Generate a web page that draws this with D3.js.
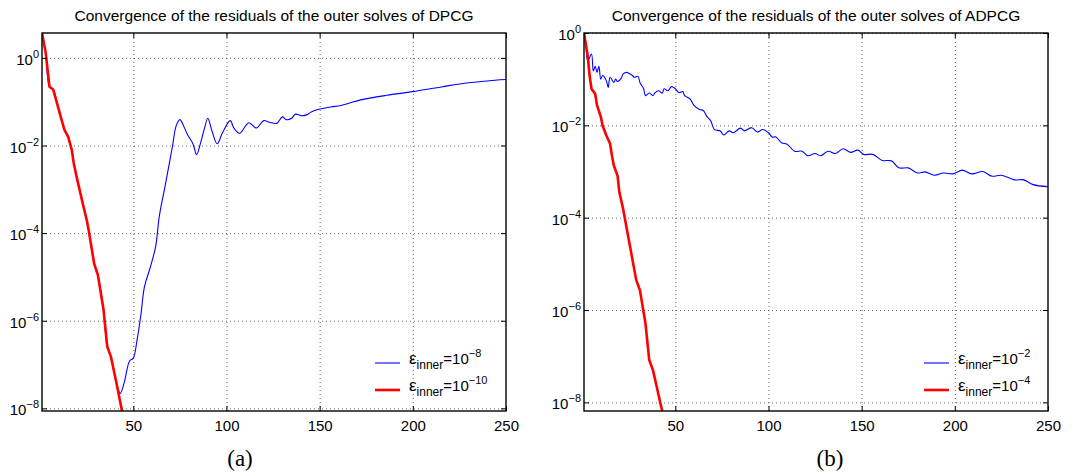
<!DOCTYPE html>
<html>
<head>
<meta charset="utf-8">
<script src="https://cdn.jsdelivr.net/npm/d3@7"></script>
<style>
  body { margin: 0; background: #fff; }
  text { font-family: "Liberation Sans", Arial, sans-serif; fill: #000; }
</style>
</head>
<body>
<div id="chart"></div>
<script>
// residuals (iteration, residual)
var dpcgBlueIter = [1,3,5,7,10,11,13,15,17,18,20,23,25,26,29,31,34,36,38,41,43,45,48,50,52,54,56,59,62,64,67,69,71,73,75,77,79,82,84,86,88,90,92,95,98,102,104,107,112,116,120,123,127,130,132,135,137,140,143,146,150,156,161,166,172,186,200,216,230,244,250];
var dpcgBlueRes = [3.7,1.3,0.22,0.19,0.066,0.046,0.023,0.016,7.9e-3,4.0e-3,1.6e-3,4.5e-4,2.0e-4,1.2e-4,2.0e-5,1.1e-5,1.8e-6,2.6e-7,1.5e-7,3.7e-8,2.2e-8,3.7e-8,1.2e-7,1.4e-7,3.6e-7,1.3e-6,6.0e-6,1.6e-5,5.0e-5,2.5e-4,1.15e-3,3.3e-3,9.5e-3,0.028,0.039,0.028,0.018,0.011,6.2e-3,0.011,0.023,0.042,0.023,0.011,0.020,0.037,0.025,0.019,0.033,0.025,0.037,0.034,0.032,0.045,0.039,0.042,0.052,0.048,0.050,0.060,0.068,0.076,0.081,0.093,0.11,0.14,0.17,0.22,0.27,0.31,0.32];

var dpcgRedIter = [1,3,5,7,10,11,13,15,17,18,20,23,25,26,29,31,34,36,38,41,44];
var dpcgRedRes = [3.7,1.3,0.22,0.19,0.066,0.046,0.023,0.016,7.9e-3,4.0e-3,1.6e-3,4.5e-4,2.0e-4,1.2e-4,2.0e-5,1.1e-5,1.8e-6,2.6e-7,1.5e-7,3.7e-8,8.5e-9];

var adpcgBlueIter = [1,2,3,5,6,7,8,9,10,11,13,14,15,17,18,19,21,22,24,25,27,28,30,31,33,34,36,38,39,41,43,44,46,48,50,52,54,55,58,60,63,65,67,69,71,74,76,79,81,85,87,91,94,97,100,102,104,107,110,114,118,121,125,128,132,136,140,144,148,151,156,161,166,170,175,180,184,189,194,199,204,209,215,220,225,232,237,242,250];
var adpcgBlueRes = [1.0,0.54,0.25,0.35,0.15,0.19,0.14,0.19,0.10,0.12,0.093,0.066,0.11,0.085,0.10,0.089,0.105,0.13,0.14,0.135,0.12,0.11,0.115,0.085,0.062,0.044,0.050,0.044,0.050,0.056,0.050,0.062,0.056,0.069,0.062,0.051,0.054,0.044,0.037,0.027,0.022,0.021,0.0155,0.0126,8.1e-3,7.6e-3,6.2e-3,7.6e-3,6.9e-3,8.7e-3,7.6e-3,8.9e-3,7.2e-3,8.1e-3,6.9e-3,5.6e-3,5.6e-3,4.2e-3,3.9e-3,2.75e-3,2.75e-3,2.2e-3,2.45e-3,2.2e-3,2.75e-3,2.45e-3,3.1e-3,2.6e-3,2.9e-3,2.35e-3,2.35e-3,1.74e-3,1.7e-3,1.2e-3,1.2e-3,9.3e-4,9.8e-4,8.3e-4,9.3e-4,8.9e-4,1.07e-3,8.9e-4,1.0e-3,7.9e-4,8.3e-4,6.6e-4,6.6e-4,5.2e-4,4.7e-4];

var adpcgRedIter = [1,3,4,5,7,8,10,11,13,15,16,17,19,20,22,24,29,31,34,36,38,40,42,43];
var adpcgRedRes = [1.0,0.32,0.12,0.062,0.048,0.027,0.0155,9.8e-3,6.0e-3,4.0e-3,2.2e-3,1.35e-3,8.1e-4,3.5e-4,1.55e-4,5.6e-5,4.5e-6,2.7e-6,5.1e-7,8.3e-8,5.0e-8,2.2e-8,9.5e-9,6.5e-9];

var xTicks = [50, 100, 150, 200, 250];
var xGrid = [50, 100, 150, 200];
var yTickExps = [0, -2, -4, -6, -8];
var dpcgLegendExps = ["\u22128", "\u221210"];
var adpcgLegendExps = ["\u22122", "\u22124"];

var svg = d3.select("#chart")
  .append("svg")
  .attr("width", 1080)
  .attr("height", 474);

var defs = svg.append("defs");

function drawPanel(p) {
  var width = p.right - p.left;
  var height = p.bottom - p.top;

  var g = svg.append("g")
    .attr("transform", `translate(${p.left}, ${p.top})`);

  var x = d3.scaleLinear().domain([1, 250]).range([0, width]);
  var y = d3.scaleLog().domain(p.yDomain).range([height, 0]);
  var yTicks = yTickExps.map(e => Math.pow(10, e));

  defs.append("clipPath").attr("id", p.id)
    .append("rect").attr("width", width).attr("height", height);

  // dotted grid
  var gridY = g.append("g")
    .call(d3.axisLeft(y).tickValues(yTicks).tickSize(-width).tickFormat(""));
  var gridX = g.append("g")
    .attr("transform", `translate(0, ${height})`)
    .call(d3.axisBottom(x).tickValues(xGrid).tickSize(-height).tickFormat(""));
  [gridX, gridY].forEach(function(gr) {
    gr.select(".domain").remove();
    gr.selectAll("line")
      .attr("stroke", "#666")
      .attr("stroke-width", 1)
      .attr("stroke-dasharray", "1,3");
  });

  // series
  var line = d3.line().x(d => x(d[0])).y(d => y(d[1]));
  var plot = g.append("g").attr("clip-path", `url(#${p.id})`);
  plot.append("path")
    .datum(d3.zip(p.blueIter, p.blueRes))
    .attr("fill", "none")
    .attr("stroke", "#0000ff")
    .attr("stroke-width", 1.1)
    .attr("d", line.curve(d3.curveCatmullRom.alpha(0.5)));
  plot.append("path")
    .datum(d3.zip(p.redIter, p.redRes))
    .attr("fill", "none")
    .attr("stroke", "#ff0000")
    .attr("stroke-width", 2.6)
    .attr("stroke-linejoin", "round")
    .attr("d", line.curve(d3.curveLinear));

  // inward ticks on all four sides
  var axes = [
    g.append("g").attr("transform", `translate(0, ${height})`)
      .call(d3.axisBottom(x).tickValues(xTicks).tickSize(-5).tickSizeOuter(0).tickPadding(9)),
    g.append("g")
      .call(d3.axisTop(x).tickValues(xTicks).tickSize(-5).tickSizeOuter(0).tickFormat("")),
    g.append("g")
      .call(d3.axisLeft(y).tickValues(yTicks).tickSize(-5).tickSizeOuter(0).tickFormat("")),
    g.append("g").attr("transform", `translate(${width}, 0)`)
      .call(d3.axisRight(y).tickValues(yTicks).tickSize(-5).tickSizeOuter(0).tickFormat(""))
  ];
  axes.forEach(function(a) {
    a.select(".domain").remove();
    a.selectAll("line").attr("stroke", "#000");
  });
  axes[0].selectAll("text")
    .style("font-size", "15px")
    .style("font-family", "Liberation Sans, Arial, sans-serif")
    .attr("dy", "0.72em");

  // y tick labels 10^n
  var yLab = g.append("g").selectAll("text")
    .data(yTickExps)
    .enter()
    .append("text")
    .attr("x", -3)
    .attr("y", d => y(Math.pow(10, d)) + 7)
    .attr("text-anchor", "end")
    .style("font-size", "15px");
  yLab.append("tspan").text("10");
  yLab.append("tspan")
    .attr("dy", -7)
    .style("font-size", "11px")
    .text(d => d === 0 ? "0" : "\u2212" + Math.abs(d));

  // frame
  g.append("rect")
    .attr("width", width)
    .attr("height", height)
    .attr("fill", "none")
    .attr("stroke", "#000")
    .attr("stroke-width", 1.4);

  // title
  g.append("text")
    .attr("x", width / 2)
    .attr("y", -12)
    .attr("text-anchor", "middle")
    .style("font-size", "15.5px")
    .text(p.title);

  // legend
  var legend = [
    {color: "#0000ff", w: 1.1, exp: p.legendExps[0]},
    {color: "#ff0000", w: 2.6, exp: p.legendExps[1]}
  ];
  var lg = g.append("g")
    .attr("transform", `translate(${p.legendX - p.left}, ${363 - p.top})`);
  legend.forEach(function(d, i) {
    lg.append("line")
      .attr("x1", 0).attr("x2", 25)
      .attr("y1", i * 27).attr("y2", i * 27)
      .attr("stroke", d.color)
      .attr("stroke-width", d.w);
    var t = lg.append("text")
      .attr("x", 34)
      .attr("y", i * 27 + 1)
      .style("font-size", "15px");
    t.append("tspan").style("font-size", "17px").text("\u03b5");
    t.append("tspan").attr("dy", 5).style("font-size", "12px").text("inner");
    t.append("tspan").attr("dy", -5).text("=10");
    t.append("tspan").attr("dy", -7).style("font-size", "11px").text(d.exp);
  });

  // caption
  svg.append("text")
    .attr("x", p.captionX)
    .attr("y", 466)
    .attr("text-anchor", "middle")
    .style("font-family", "Liberation Serif, serif")
    .style("font-size", "23px")
    .text(p.caption);
}

drawPanel({
  id: "clipA", left: 42, right: 506, top: 33, bottom: 411,
  yDomain: [8.7e-9, 3.7],
  blueIter: dpcgBlueIter, blueRes: dpcgBlueRes,
  redIter: dpcgRedIter, redRes: dpcgRedRes,
  title: "Convergence of the residuals of the outer solves of DPCG",
  legendExps: dpcgLegendExps, legendX: 375,
  caption: "(a)", captionX: 240
});

drawPanel({
  id: "clipB", left: 584, right: 1048, top: 33, bottom: 411,
  yDomain: [6.5e-9, 1],
  blueIter: adpcgBlueIter, blueRes: adpcgBlueRes,
  redIter: adpcgRedIter, redRes: adpcgRedRes,
  title: "Convergence of the residuals of the outer solves of ADPCG",
  legendExps: adpcgLegendExps, legendX: 924,
  caption: "(b)", captionX: 830
});
</script>
</body>
</html>
